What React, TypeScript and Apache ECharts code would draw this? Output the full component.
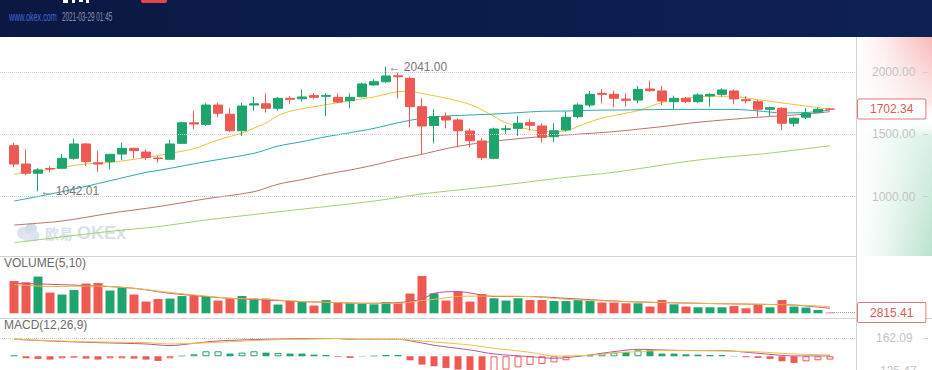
import React, { useEffect, useRef } from 'react';
import * as echarts from 'echarts';

// ---------- data ----------
const OPEN = [1409,1262,1188,1226,1228,1308,1423,1272,1281,1342,1388,1358,1310,1300,1428,1593,1580,1735,1661,1529,1735,1745,1709,1789,1785,1811,1805,1797,1770,1802,1896,1922,1970,1949,1722,1571,1642,1615,1527,1447,1308,1540,1548,1594,1567,1481,1535,1642,1735,1829,1821,1783,1775,1864,1848,1762,1789,1762,1808,1821,1848,1778,1762,1701,1709,1589,1637,1677,1703];
const CLOSE = [1262,1188,1215,1222,1308,1423,1281,1262,1340,1388,1369,1313,1306,1423,1593,1583,1735,1669,1529,1727,1745,1709,1789,1781,1800,1797,1812,1759,1797,1904,1922,1968,1962,1722,1567,1642,1615,1529,1449,1313,1543,1545,1589,1573,1476,1529,1637,1735,1821,1821,1789,1773,1861,1850,1767,1789,1762,1816,1821,1856,1784,1770,1701,1714,1589,1629,1669,1701,1702.34];
const LOW = [1236,1174,1042.01,1196,1220,1295,1246,1200,1220,1294,1308,1294,1273,1300,1423,1540,1567,1637,1521,1487,1690,1674,1690,1745,1762,1781,1647,1749,1714,1797,1890,1910,1789,1555,1342,1428,1548,1396,1396,1294,1300,1503,1487,1529,1433,1436,1521,1629,1717,1749,1717,1722,1749,1842,1735,1701,1749,1749,1722,1802,1741,1749,1642,1647,1535,1562,1623,1669,1697];
const HIGH = [1433,1380,1230,1246,1342,1465,1430,1369,1342,1433,1392,1380,1326,1455,1601,1690,1749,1754,1709,1754,1802,1829,1800,1808,1861,1829,1829,1829,1829,1914,1941,2041,1994,1962,1789,1701,1674,1629,1548,1468,1553,1575,1647,1621,1589,1589,1682,1749,1848,1864,1850,1829,1888,1930,1888,1810,1800,1829,1829,1869,1861,1808,1775,1722,1717,1637,1709,1714,1709];
const VOLUME = [129000,124000,147000,83000,75000,93000,119000,121000,91000,104000,75000,47000,57000,59000,69000,69000,67000,51000,60000,69000,59000,59000,35000,49000,45000,31000,53000,43000,40000,40000,36000,45000,40000,79000,149000,80000,51000,88000,47000,77000,60000,51000,60000,53000,53000,49000,49000,53000,49000,43000,43000,40000,40000,27000,53000,36000,27000,24000,24000,24000,29000,20000,36000,24000,53000,27000,23000,13000,2815.41];

// moving averages, [candle index, value] read at sampled candles
const MA5 = [[0,1180],[2,1206],[4,1236],[6,1262],[8,1275],[10,1300],[12,1330],[13,1348],[15,1385],[17,1455],[19,1510],[20,1550],[21,1590],[22,1650],[23,1685],[24,1705],[25,1722],[26,1738],[28,1770],[30,1800],[31,1822],[32,1842],[33,1845],[34,1828],[36,1790],[38,1740],[40,1645],[41,1592],[43,1538],[45,1520],[46,1529],[48,1600],[49,1630],[51,1670],[52,1690],[54,1755],[56,1790],[58,1806],[60,1804],[62,1778],[64,1752],[66,1727],[68,1703]];
const MA10 = [[0,965],[4,1040],[8,1128],[11,1195],[12,1210],[16,1281],[20,1348],[22,1406],[24,1441],[26,1481],[28,1513],[30,1548],[32,1593],[34,1629],[36,1647],[38,1655],[40,1663],[42,1674],[44,1685],[46,1687],[48,1693],[50,1695],[56,1700],[60,1700],[62,1688],[64,1672],[66,1675],[68,1695]];
const MA30 = [[0,773],[4,805],[8,867],[12,920],[16,983],[20,1040],[22,1100],[24,1137],[26,1180],[28,1214],[30,1254],[32,1300],[34,1340],[36,1385],[38,1420],[40,1445],[42,1465],[44,1482],[46,1495],[48,1508],[50,1522],[54,1562],[57,1597],[62,1637],[66,1662],[68,1682]];
const MA60 = [[0,631],[8,722],[12,760],[16,813],[24,900],[30,965],[34,1022],[40,1085],[46,1155],[50,1196],[57,1294],[63,1350],[68,1409]];

const VOL_MA5 = [[0,120000],[3,116000],[7,109000],[10,100000],[13,80000],[16,67000],[18,60000],[21,53000],[24,47000],[27,43000],[29,40000],[32,43000],[34,56000],[35,80000],[37,87000],[40,67000],[43,67000],[46,60000],[51,47000],[57,40000],[62,36000],[65,33000],[68,20000]];
const VOL_MA10 = [[0,116000],[3,107000],[7,109000],[10,100000],[13,83000],[16,69000],[18,60000],[21,56000],[24,47000],[27,43000],[29,40000],[32,40000],[34,51000],[35,56000],[37,67000],[40,69000],[43,67000],[46,56000],[51,47000],[57,40000],[62,36000],[65,33000],[68,27000]];

const MACD_HIST = [9,-18,-24,-30,-18,-12,-21,-30,-18,-18,-21,-30,-42,-18,6,18,45,45,24,33,45,33,30,24,24,15,12,-6,-15,3,6,12,12,-36,-75,-90,-105,-120,-130,-135,-135,-120,-100,-78,-70,-55,-36,3,9,30,33,39,54,54,24,24,18,15,12,12,3,-9,-15,-24,-45,-60,-45,-36,-30];
const MACD_HOLLOW = [0,0,0,0,1,0,0,0,1,1,0,0,0,1,0,1,1,1,0,1,1,0,1,0,0,0,0,0,0,0,0,0,0,0,0,0,0,0,0,0,1,1,1,1,1,1,1,0,1,1,1,0,1,0,0,0,0,0,0,1,0,0,0,0,0,0,1,1,1];
const DIF = [[0,153],[3,138],[7,123],[11,111],[13,96],[15,117],[17,138],[21,153],[24,158],[27,160],[28,153],[32,153],[34,120],[35,99],[38,57],[40,21],[43,-3],[45,-18],[48,12],[50,42],[52,63],[54,57],[57,51],[59,51],[62,27],[65,3],[68,3]];
const DEA = [[0,153],[3,141],[7,129],[11,123],[13,111],[15,117],[17,126],[21,147],[24,153],[27,160],[29,153],[32,153],[34,138],[35,129],[38,102],[40,72],[43,36],[45,3],[48,9],[50,30],[52,42],[54,51],[57,51],[59,48],[62,39],[65,21],[68,12]];

const PRICE_TICKS = [1000, 1500, 2000];
const MACD_MAX = 162.09;
const MACD_MIN = -135.47;
const SITE = 'www.okex.com';
const STAMP = '2021-03-29 01:45';
const VOL_TITLE = 'VOLUME(5,10)';
const MACD_TITLE = 'MACD(12,26,9)';
const BRAND_CN = '欧易';
const BRAND_EN = 'OKEx';

// ---------- styles ----------
const GREEN = '#1ea56e';
const RED = '#ee5953';
const FONT = 'Liberation Sans, Arial, sans-serif';
const X_MIN = -14 / 12;
const X_MAX = 842 / 12;

export default function App() {
  const ref = useRef<HTMLDivElement>(null);

  useEffect(() => {
    document.body.style.margin = '0';
    const chart = echarts.init(ref.current!, null, { renderer: 'svg' });
    const n = OPEN.length;
    const isUp = (i: number) => CLOSE[i] >= OPEN[i];

    let maxIdx = 0, minIdx = 0;
    HIGH.forEach((h, i) => { if (h > HIGH[maxIdx]) maxIdx = i; });
    LOW.forEach((l, i) => { if (l < LOW[minIdx]) minIdx = i; });

    const xAxisBase = {
      type: 'value' as const, min: X_MIN, max: X_MAX, show: false,
    };
    const maLine = (data: number[][], color: string, xi: number, yi: number) => ({
      type: 'line', xAxisIndex: xi, yAxisIndex: yi, data, showSymbol: false, symbol: 'none',
      smooth: 0.3, silent: true, lineStyle: { width: 1, color }, z: 3,
    });
    const dotted = { type: 'dotted' as const, color: '#cfcfcf', width: 1 };
    const boxLabel = (text: string) => ({
      show: true, position: 'end', distance: 2, formatter: text,
      color: '#d65a57', fontSize: 12, backgroundColor: '#fff', borderColor: '#e27b78',
      borderWidth: 1, borderRadius: 1, padding: [4, 12, 3, 12],
    });

    const option: any = {
      animation: false,
      textStyle: { fontFamily: FONT },
      grid: [
        { left: 0, width: 856, top: 40, height: 216, outerBoundsMode: 'none', containLabel: false },
        { left: 0, width: 856, top: 256, height: 57.3, outerBoundsMode: 'none', containLabel: false },
        { left: 0, width: 856, top: 338.3, height: 33, outerBoundsMode: 'none', containLabel: false },
      ],
      xAxis: [
        { ...xAxisBase, gridIndex: 0 },
        { ...xAxisBase, gridIndex: 1 },
        { ...xAxisBase, gridIndex: 2 },
      ],
      yAxis: [
        {
          gridIndex: 0, type: 'value', position: 'right', min: 524.5, max: 2256.6, splitNumber: 3,
          axisLine: { show: false }, axisTick: { show: false }, splitLine: { show: false },
          axisLabel: { customValues: PRICE_TICKS, margin: 16, color: '#c4c4c4', fontSize: 12,
            formatter: (v: number) => v.toFixed(2) },
        },
        {
          gridIndex: 0, type: 'value', position: 'right', offset: 67, min: 524.5, max: 2256.6, splitNumber: 3,
          axisLine: { show: false }, splitLine: { show: false }, axisLabel: { show: false },
          axisTick: { show: true, length: 5, customValues: PRICE_TICKS, lineStyle: { color: '#cfcfcf' } },
        },
        { gridIndex: 1, type: 'value', min: 0, max: 229200, show: false, splitLine: { show: false } },
        {
          gridIndex: 2, type: 'value', position: 'right', min: MACD_MIN, max: MACD_MAX, interval: MACD_MAX - MACD_MIN,
          axisLine: { show: false },
          axisTick: { show: true, length: 8, lineStyle: { color: '#cfcfcf' } },
          splitLine: { show: true, lineStyle: dotted },
          axisLabel: { margin: 20, color: '#c4c4c4', fontSize: 12, showMinLabel: true, showMaxLabel: true,
            formatter: (v: number) => v.toFixed(2) },
        },
        {
          gridIndex: 2, type: 'value', position: 'right', offset: 67, min: MACD_MIN, max: MACD_MAX, interval: MACD_MAX - MACD_MIN,
          axisLine: { show: false }, splitLine: { show: false }, axisLabel: { show: false },
          axisTick: { show: true, length: 5, lineStyle: { color: '#cfcfcf' } },
        },
      ],
      series: [
        {
          type: 'candlestick', xAxisIndex: 0, yAxisIndex: 0, barWidth: 9,
          encode: { x: 0, y: [1, 2, 3, 4] },
          data: OPEN.map((o, i) => [i, o, CLOSE[i], LOW[i], HIGH[i]]),
          itemStyle: { color: GREEN, color0: RED, borderColor: GREEN, borderColor0: RED, borderWidth: 1 },
          z: 4,
          markLine: {
            silent: true, symbol: ['none', 'none'], animation: false,
            data: [
              ...PRICE_TICKS.map((t) => ({ yAxis: t, lineStyle: dotted, label: { show: false } })),
              [
                { coord: [n - 1, CLOSE[n - 1]], lineStyle: { color: 'rgba(255,255,255,0)', width: 1 } },
                { coord: [X_MAX, CLOSE[n - 1]] },
              ],
            ],
            label: boxLabel(CLOSE[n - 1].toFixed(2)),
          },
          markPoint: {
            symbol: 'circle', symbolSize: 1, itemStyle: { color: 'rgba(0,0,0,0)' }, silent: true,
            label: { show: true, position: 'right', distance: 2, color: '#777', fontSize: 12,
              formatter: (p: any) => '\u2190 ' + Number(p.value).toFixed(2) },
            data: [
              { coord: [maxIdx, HIGH[maxIdx]], value: HIGH[maxIdx] },
              { coord: [minIdx, LOW[minIdx]], value: LOW[minIdx] },
            ],
          },
        },
        maLine(MA5, '#efc23a', 0, 0),
        maLine(MA10, '#2aa9b0', 0, 0),
        maLine(MA30, '#b87566', 0, 0),
        maLine(MA60, '#a2d06d', 0, 0),
        {
          type: 'bar', xAxisIndex: 1, yAxisIndex: 2, barWidth: 9,
          data: VOLUME.map((v, i) => ({ value: [i, v], itemStyle: { color: isUp(i) ? GREEN : RED } })),
          markLine: {
            silent: true, symbol: ['none', 'none'], animation: false,
            data: [[
              { coord: [n - 1, VOLUME[n - 1]] },
              { coord: [X_MAX, VOLUME[n - 1]] },
            ]],
            lineStyle: { type: 'dotted', color: '#999', width: 1 },
            label: boxLabel(VOLUME[n - 1].toFixed(2)),
          },
        },
        maLine(VOL_MA5, '#c5508a', 1, 2),
        maLine(VOL_MA10, '#efb83a', 1, 2),
        {
          type: 'bar', xAxisIndex: 2, yAxisIndex: 3, barWidth: 7,
          data: MACD_HIST.map((v, i) => {
            const c = v >= 0 ? GREEN : RED;
            return {
              value: [i, v],
              itemStyle: MACD_HOLLOW[i] ? { color: '#fff', borderColor: c, borderWidth: 1 } : { color: c },
            };
          }),
        },
        maLine(DIF, '#b654a0', 2, 3),
        maLine(DEA, '#efc23a', 2, 3),
      ],
      graphic: [
        // right side price-area background
        {
          type: 'rect', z: -10, silent: true, shape: { x: 857, y: 37, width: 75, height: 219 },
          style: {
            fill: new echarts.graphic.LinearGradient(0, 0, 0, 1, [
              { offset: 0, color: 'rgba(242,110,110,0.5)' },
              { offset: 0.3, color: 'rgba(242,150,150,0.22)' },
              { offset: 0.38, color: 'rgba(255,255,255,0)' },
              { offset: 0.45, color: 'rgba(90,190,140,0.22)' },
              { offset: 1, color: 'rgba(70,180,125,0.38)' },
            ]),
          },
        },
        {
          type: 'rect', z: -9, silent: true, shape: { x: 857, y: 37, width: 75, height: 219 },
          style: {
            fill: new echarts.graphic.LinearGradient(0, 0, 1, 0, [
              { offset: 0, color: 'rgba(255,255,255,1)' },
              { offset: 0.35, color: 'rgba(255,255,255,0.75)' },
              { offset: 1, color: 'rgba(255,255,255,0)' },
            ]),
          },
        },
        // panel frame lines
        { type: 'line', z: 1, silent: true, shape: { x1: 856.5, y1: 37, x2: 856.5, y2: 370 }, style: { stroke: '#d2d2d2', lineWidth: 1 } },
        { type: 'line', z: 1, silent: true, shape: { x1: 0, y1: 256.5, x2: 856, y2: 256.5 }, style: { stroke: '#d2d2d2', lineWidth: 1 } },
        { type: 'line', z: 1, silent: true, shape: { x1: 0, y1: 318.5, x2: 932, y2: 318.5 }, style: { stroke: '#d2d2d2', lineWidth: 1 } },
        // panel titles
        { type: 'text', z: 5, silent: true, x: 4, y: 262.5,
          style: { text: VOL_TITLE, fill: '#6b6b6b', fontSize: 12, fontFamily: FONT, verticalAlign: 'middle' } },
        { type: 'text', z: 5, silent: true, x: 4, y: 324.7,
          style: { text: MACD_TITLE, fill: '#6b6b6b', fontSize: 12, fontFamily: FONT, verticalAlign: 'middle' } },
        // watermark
        { type: 'circle', z: 0, silent: true, shape: { cx: 23, cy: 233, r: 6 }, style: { fill: '#dbe3ef' } },
        { type: 'circle', z: 0, silent: true, shape: { cx: 31, cy: 229, r: 6 }, style: { fill: '#d3ddeb' } },
        { type: 'circle', z: 0, silent: true, shape: { cx: 34, cy: 236, r: 5.5 }, style: { fill: '#dbe3ef' } },
        { type: 'circle', z: 0, silent: true, shape: { cx: 27, cy: 238, r: 4.5 }, style: { fill: '#e2e8f1' } },
        { type: 'text', z: 0, silent: true, x: 45, y: 233,
          style: { text: BRAND_CN, fill: '#d9e0ea', fontSize: 14, fontWeight: 'bold', fontFamily: 'Noto Sans CJK SC', verticalAlign: 'middle' } },
        { type: 'text', z: 0, silent: true, x: 77, y: 233,
          style: { text: BRAND_EN, fill: '#d9e0ea', fontSize: 18, fontWeight: 'bold', fontFamily: FONT, verticalAlign: 'middle' } },
        // header band
        {
          type: 'rect', z: 100, silent: true, shape: { x: 0, y: 0, width: 932, height: 37 },
          style: {
            fill: new echarts.graphic.LinearGradient(0, 0, 1, 0, [
              { offset: 0, color: '#0a1842' },
              { offset: 1, color: '#0d2153' },
            ]),
          },
        },
        // fragments of the cut-off title row above the picture
        { type: 'rect', z: 101, silent: true, shape: { x: 63, y: 0, width: 5, height: 3 }, style: { fill: '#ffffff' } },
        { type: 'rect', z: 101, silent: true, shape: { x: 72, y: 0, width: 3, height: 3 }, style: { fill: '#ffffff' } },
        { type: 'rect', z: 101, silent: true, shape: { x: 79, y: 0, width: 4, height: 2 }, style: { fill: '#ffffff' } },
        { type: 'rect', z: 101, silent: true, shape: { x: 86, y: 0, width: 3, height: 3 }, style: { fill: '#ffffff' } },
        { type: 'rect', z: 101, silent: true, shape: { x: 141, y: -6, width: 26, height: 9, r: 2 }, style: { fill: '#e0474c' } },
        { type: 'text', z: 101, silent: true, x: 9, y: 17, scaleX: 0.55,
          style: { text: SITE, fill: '#4466d8', fontSize: 13, fontFamily: FONT, verticalAlign: 'middle' } },
        { type: 'text', z: 101, silent: true, x: 62, y: 17, scaleX: 0.49,
          style: { text: STAMP, fill: '#8a93ad', fontSize: 13, fontFamily: FONT, verticalAlign: 'middle' } },
      ],
    };

    chart.setOption(option);
    return () => chart.dispose();
  }, []);

  return <div ref={ref} style={{ position: 'fixed', left: 0, top: 0, width: 932, height: 370, background: '#fff' }} />;
}
